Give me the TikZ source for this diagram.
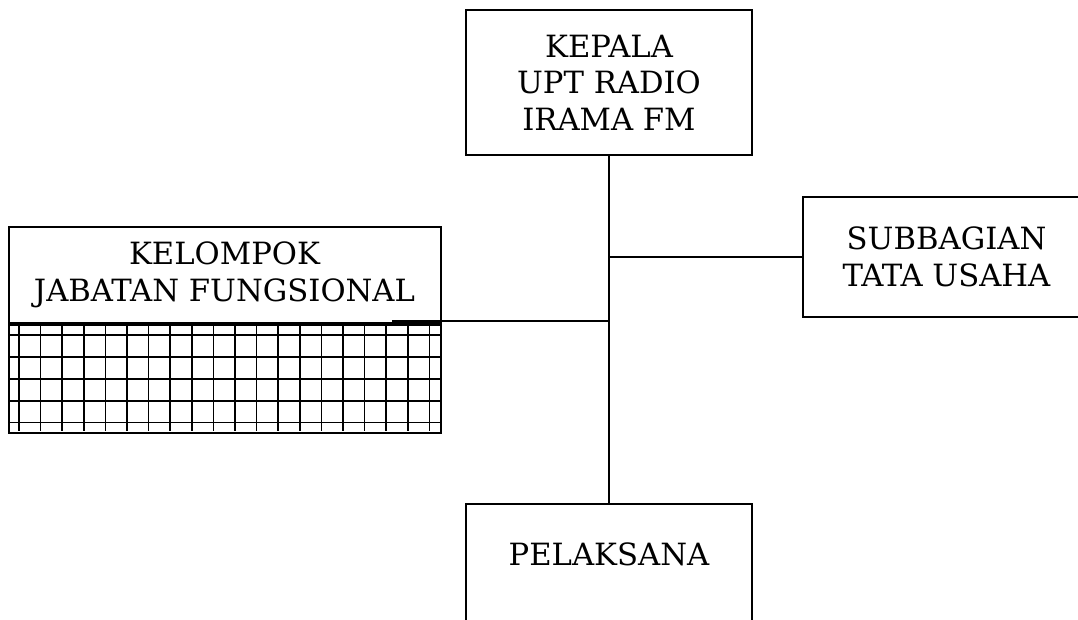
\documentclass[tikz,border=0pt]{standalone}
\usepackage{fontspec}
\setmainfont{DejaVu Serif}

\begin{document}
\begin{tikzpicture}[x=0.75pt,y=-0.75pt,
   kotak/.style={draw,line width=1.5pt,inner sep=0pt,align=center,
      font=\fontsize{23}{27.4}\selectfont},
   garis/.style={line width=1.5pt},
   petak/.style={line width=1.3pt}]
\useasboundingbox (0,0) rectangle (1078,619);
\clip (0,0) rectangle (1078,619);

\node[kotak,minimum width=215pt,minimum height=108.75pt] (kepala) at (609,82.5)
   {KEPALA\\UPT RADIO\\IRAMA FM};
\node[kotak,minimum width=215pt,minimum height=90pt] (subbag) at (946.5,257)
   {SUBBAGIAN\\TATA USAHA};
\node[kotak,minimum width=324pt,minimum height=72pt] (kjf) at (224.5,275)
   {KELOMPOK\\JABATAN FUNGSIONAL};
\node[kotak,minimum width=324pt,minimum height=81pt,anchor=north] (kisi) at (kjf.south) {};
\node[kotak,minimum width=215pt,anchor=north,text height=46pt,text depth=80pt] (pelaksana)
   at (609,503) {PELAKSANA};

% petak-petak
\foreach \i in {0,...,19}
   \draw[petak] ({19+21.6*\i},323) -- ({19+21.6*\i},431);
\foreach \j in {0,...,4}
   \draw[petak] (9,{335+21.9*\j}) -- (441,{335+21.9*\j});

\coordinate (cab) at (392,321);
\draw[garis] (kepala.south) -- (pelaksana.north);
\draw[garis] (kepala.south |- subbag.west) -- (subbag.west);
\draw[garis] (cab) -- (cab -| kepala.south);
\end{tikzpicture}
\end{document}
